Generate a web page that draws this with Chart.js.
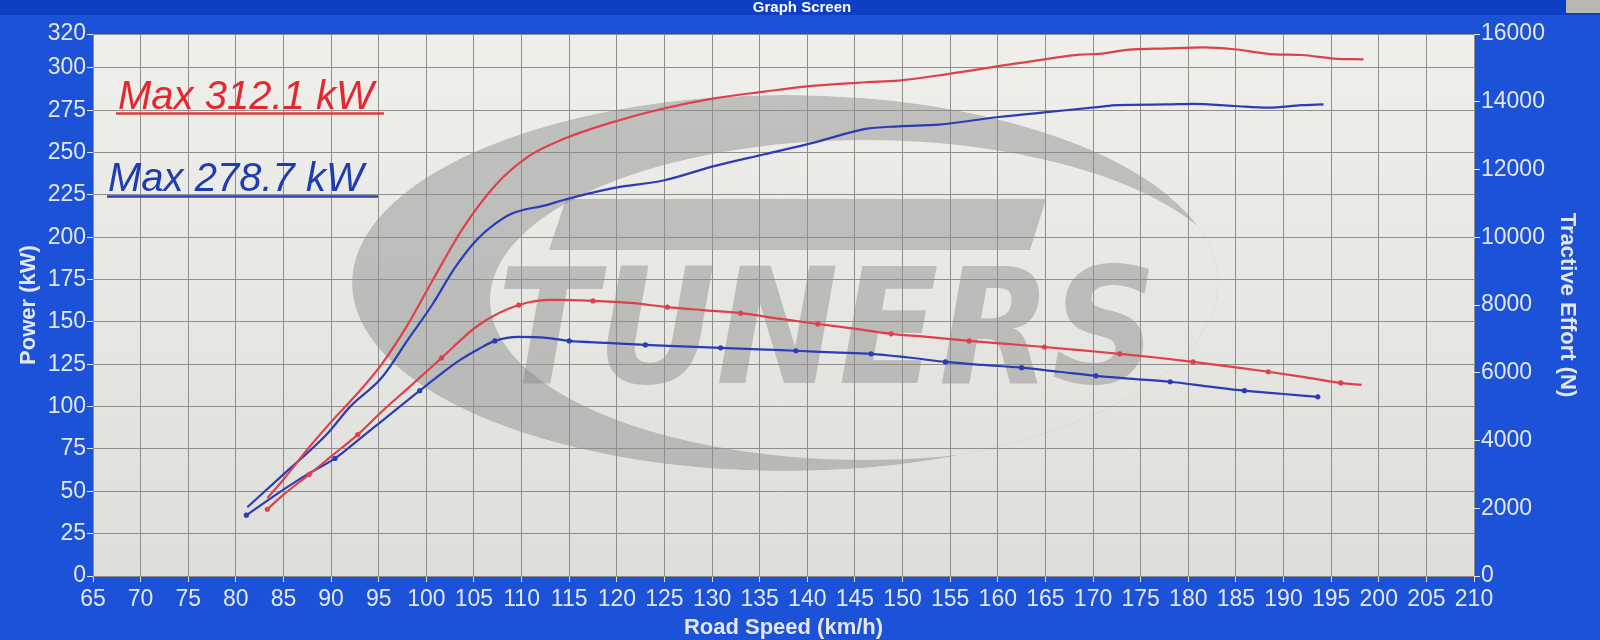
<!DOCTYPE html>
<html>
<head>
<meta charset="utf-8">
<title>Graph Screen</title>
<script src="https://cdn.jsdelivr.net/npm/chart.js@4.4.1/dist/chart.umd.min.js"></script>
<style>
  html, body { margin: 0; padding: 0; background: #1b52d8; overflow: hidden; }
  #wrap { width: 1600px; height: 640px; }
</style>
</head>
<body>
<div id="wrap"><canvas id="dyno" width="1600" height="640"></canvas></div>
<script>
// axis ranges and tick labels
const speedMin = 65;
const speedMax = 210;
const powerTicks = [0, 25, 50, 75, 100, 125, 150, 175, 200, 225, 250, 275, 300, 320];
const effortTicks = [0, 2000, 4000, 6000, 8000, 10000, 12000, 14000, 16000];

// red run - power (kW)
const redPowerSpeed = [83.3, 85, 87.7, 90, 92.8, 95.3, 98, 100.6, 103.8, 107.3, 110.8, 114.4, 119.6, 124.9, 130.2, 135.5, 140.8, 146.1, 149.6, 154.9, 160.1, 165.4, 168.6, 170.7, 173.6, 177.8, 181.6, 184.8, 189, 191.9, 195.3, 198.4];
const redPower = [46, 57, 76, 91, 108, 125, 148, 174, 205, 231, 248, 258, 268, 276, 282, 286, 289.5, 291.5, 292.5, 296.5, 301, 305.5, 307.8, 308.3, 310.6, 311.5, 312.1, 311, 308, 307.6, 305.5, 305];

// blue run - power (kW)
const bluePowerSpeed = [81.2, 85, 89.6, 92, 95.3, 98, 100.6, 103, 105.2, 107, 109, 112.6, 114.4, 119.6, 124.9, 130.2, 135.5, 140.8, 146.1, 149.6, 153.8, 160.1, 165.4, 170.7, 172.5, 177.8, 180.5, 184.8, 188.4, 191.9, 194.2];
const bluePower = [40.6, 60, 84, 100, 117, 139, 160, 182, 198, 207, 214, 219, 222, 229, 233.5, 242, 249, 256, 264, 265.5, 266.5, 271, 274, 277, 278, 278.4, 278.7, 277.5, 276.5, 278, 278.5];

// red run - tractive effort (N)
const redEffortSpeed = [83.3, 85, 87.7, 90, 92.8, 95.5, 98.5, 101.6, 105.5, 109.7, 113.3, 117.5, 121.4, 125.3, 129, 133, 137, 141.1, 144.9, 148.8, 152.9, 157, 161, 164.9, 168.9, 172.8, 176.6, 180.5, 184.4, 188.4, 192.2, 196, 198.2];
const redEffort = [1970, 2400, 3000, 3530, 4175, 4900, 5650, 6440, 7410, 8000, 8150, 8120, 8060, 7940, 7850, 7760, 7600, 7440, 7300, 7150, 7050, 6940, 6850, 6760, 6660, 6560, 6450, 6320, 6180, 6030, 5870, 5700, 5640];
const redMarkers = [83.3, 87.7, 92.8, 101.6, 109.7, 117.5, 125.3, 133, 141.1, 148.8, 157, 164.9, 172.8, 180.5, 188.4, 196];

// blue run - tractive effort (N)
const blueEffortSpeed = [81.1, 85, 87.5, 90.4, 93, 95, 99.3, 101, 103.4, 105.5, 107.2, 109.7, 112.6, 115, 119, 123, 126.9, 130.9, 134.9, 138.8, 142.7, 146.7, 150.6, 154.5, 158.5, 162.5, 166.4, 170.3, 174.2, 178.1, 182, 185.9, 189.7, 193.6];
const blueEffort = [1795, 2550, 3000, 3470, 4050, 4500, 5470, 5850, 6350, 6700, 6940, 7060, 7030, 6940, 6880, 6820, 6780, 6735, 6690, 6650, 6600, 6560, 6450, 6320, 6230, 6150, 6030, 5910, 5820, 5735, 5600, 5470, 5380, 5290];
const blueMarkers = [81.1, 90.4, 99.3, 107.2, 115, 123, 130.9, 138.8, 146.7, 154.5, 162.5, 170.3, 178.1, 185.9, 193.6];

const redMax = 'Max 312.1 kW';
const blueMax = 'Max 278.7 kW';
const logoText = 'TUNERS';

const RED = '#e0404a';
const BLUE = '#2a3db5';
const LABEL = '#e4e7f2';
const FONT = '"Liberation Sans", Arial, sans-serif';

function pairs(xs, ys) {
    return xs.map((x, i) => ({ x: x, y: ys[i] }));
}

function markerRadius(list) {
    return function(ctx) {
        return ctx.raw && list.includes(ctx.raw.x) ? 2.6 : 0;
    };
}

// screen frame, plot background, watermark and max labels
const screenPlugin = {
    id: 'screen',
    beforeDraw(chart) {
        const ctx = chart.ctx;
        const a = chart.chartArea;
        ctx.save();
        ctx.fillStyle = '#1b52d8';
        ctx.fillRect(0, 0, chart.width, chart.height);
        ctx.fillStyle = '#0c3fc4';
        ctx.fillRect(0, 0, chart.width, 15);
        ctx.fillStyle = '#ffffff';
        ctx.font = 'bold 15px ' + FONT;
        ctx.textAlign = 'center';
        ctx.textBaseline = 'middle';
        ctx.fillText('Graph Screen', 802, 8);
        ctx.fillStyle = '#b8b8b0';
        ctx.fillRect(1566, 0, 34, 13);

        const g = ctx.createLinearGradient(0, a.top, 0, a.bottom);
        g.addColorStop(0, '#efefec');
        g.addColorStop(1, '#dededb');
        ctx.fillStyle = g;
        ctx.fillRect(a.left, a.top, a.right - a.left, a.bottom - a.top);

        // watermark logo
        ctx.beginPath();
        ctx.rect(a.left, a.top, a.right - a.left, a.bottom - a.top);
        ctx.clip();
        ctx.fillStyle = 'rgba(128,128,128,0.42)';
        ctx.save();
        ctx.beginPath();
        ctx.ellipse(785, 283, 433, 188, 0, 0, Math.PI * 2);
        ctx.clip();
        ctx.beginPath();
        ctx.ellipse(785, 283, 433, 188, 0, 0, Math.PI * 2);
        ctx.ellipse(865, 300, 375, 160, 0, 0, Math.PI * 2);
        ctx.fill('evenodd');
        ctx.restore();
        ctx.beginPath();
        ctx.moveTo(566, 199);
        ctx.lineTo(1046, 199);
        ctx.lineTo(1030, 250);
        ctx.lineTo(549, 250);
        ctx.closePath();
        ctx.fill();
        ctx.font = 'italic bold 160px "DejaVu Sans", sans-serif';
        ctx.textAlign = 'left';
        ctx.textBaseline = 'alphabetic';
        const w = ctx.measureText(logoText).width;
        ctx.translate(497, 383);
        ctx.scale(660 / w, 1);
        ctx.fillText(logoText, 0, 0);
        ctx.restore();
    },
    afterDraw(chart) {
        const ctx = chart.ctx;
        ctx.save();
        ctx.font = 'italic 40px ' + FONT;
        ctx.textAlign = 'left';
        ctx.textBaseline = 'alphabetic';
        ctx.lineWidth = 2.5;

        ctx.fillStyle = '#e8262e';
        ctx.strokeStyle = '#e03a3a';
        ctx.fillText(redMax, 118, 109);
        ctx.beginPath();
        ctx.moveTo(116, 113.5);
        ctx.lineTo(384, 113.5);
        ctx.stroke();

        ctx.fillStyle = '#1f3cb0';
        ctx.strokeStyle = '#2a44b0';
        ctx.fillText(blueMax, 108, 191);
        ctx.beginPath();
        ctx.moveTo(107, 196.5);
        ctx.lineTo(378, 196.5);
        ctx.stroke();
        ctx.restore();
    }
};

function lineSet(label, data, color, axis, markers) {
    return {
        label: label,
        data: data,
        yAxisID: axis,
        borderColor: color,
        backgroundColor: color,
        borderWidth: 2.2,
        pointRadius: markers ? markerRadius(markers) : 0,
        pointBorderWidth: 0,
        pointBackgroundColor: color,
        cubicInterpolationMode: 'monotone',
        fill: false
    };
}

const tickFont = { family: FONT, size: 23 };
const titleFont = { family: FONT, size: 22, weight: 'bold', lineHeight: 1 };
const plain = v => String(v);

new Chart(document.getElementById('dyno'), {
    type: 'line',
    data: {
        datasets: [
            lineSet('Power red', pairs(redPowerSpeed, redPower), RED, 'y', null),
            lineSet('Power blue', pairs(bluePowerSpeed, bluePower), BLUE, 'y', null),
            lineSet('Tractive red', pairs(redEffortSpeed, redEffort), RED, 'y2', redMarkers),
            lineSet('Tractive blue', pairs(blueEffortSpeed, blueEffort), BLUE, 'y2', blueMarkers)
        ]
    },
    options: {
        responsive: false,
        devicePixelRatio: 1,
        animation: false,
        layout: { padding: { top: 34, left: 0, right: 0, bottom: 0 } },
        plugins: {
            legend: { display: false },
            tooltip: { enabled: false }
        },
        scales: {
            x: {
                type: 'linear',
                position: 'bottom',
                min: speedMin,
                max: speedMax,
                afterFit: s => { s.height = 64; },
                border: { display: false },
                grid: { color: '#8e8e8c', lineWidth: 1, tickColor: LABEL, tickLength: 6 },
                ticks: { stepSize: 5, color: LABEL, font: tickFont, padding: 4, maxRotation: 0, autoSkip: false, callback: plain },
                title: { display: true, text: 'Road Speed (km/h)', color: LABEL, font: titleFont, padding: { top: 0, bottom: 1 } }
            },
            y: {
                type: 'linear',
                position: 'left',
                min: 0,
                max: 320,
                afterBuildTicks: s => { s.ticks = powerTicks.map(v => ({ value: v })); },
                afterFit: s => { s.width = 93; },
                border: { display: false },
                grid: { color: '#8e8e8c', lineWidth: 1, tickColor: LABEL, tickLength: 6 },
                ticks: { color: LABEL, font: tickFont, padding: 1, callback: plain },
                title: { display: true, text: 'Power (kW)', color: LABEL, font: titleFont, padding: { top: 18, bottom: 0 } }
            },
            y2: {
                type: 'linear',
                position: 'right',
                min: 0,
                max: 16000,
                afterBuildTicks: s => { s.ticks = effortTicks.map(v => ({ value: v })); },
                afterFit: s => { s.width = 126; },
                border: { display: false },
                grid: { drawOnChartArea: false, tickColor: LABEL, tickLength: 6 },
                ticks: { color: LABEL, font: tickFont, padding: 1, callback: plain },
                title: { display: true, text: 'Tractive Effort (N)', color: LABEL, font: titleFont, padding: { top: 22, bottom: 0 } }
            }
        }
    },
    plugins: [screenPlugin]
});
</script>
</body>
</html>
